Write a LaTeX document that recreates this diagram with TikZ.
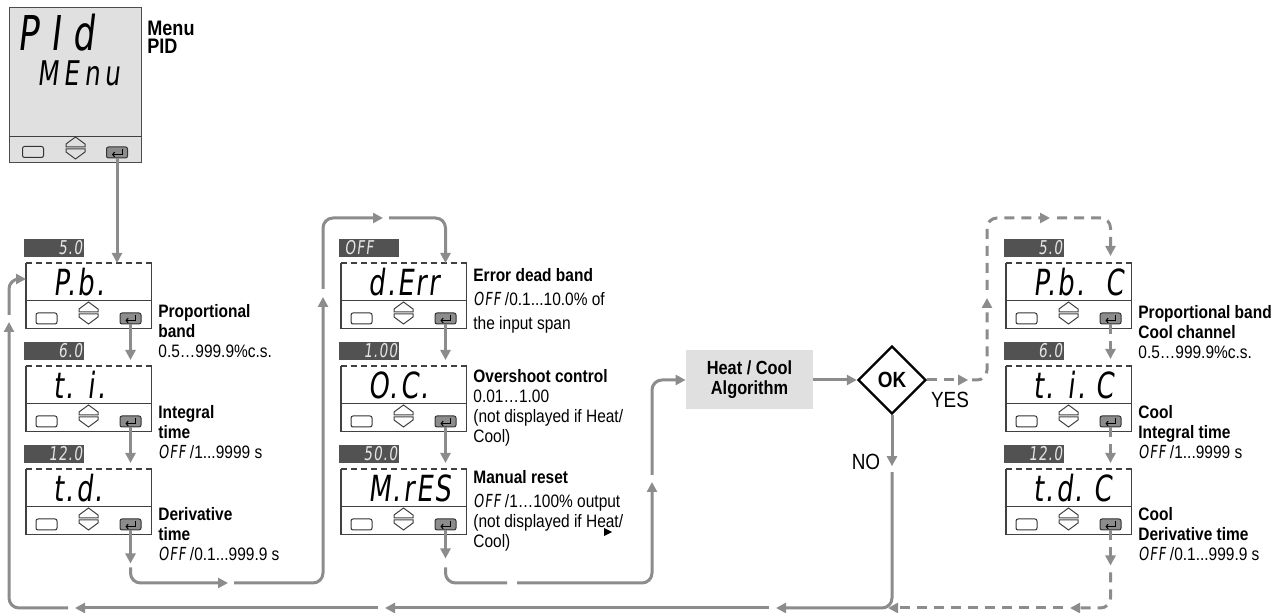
\documentclass[tikz,border=0pt]{standalone}
\usepackage{fontspec}
\setmainfont{Liberation Sans}[FakeStretch=0.86]
\newfontfamily\segfont{DejaVu Sans}[FakeSlant=0.12,FakeStretch=0.72,LetterSpace=6]
\usetikzlibrary{arrows.meta,calc,shapes.geometric}

\begin{document}
\begin{tikzpicture}[
  x=0.5pt,y=-0.5pt,
  >={Triangle[length=5pt,width=5pt]},
  font=\fontsize{9}{10}\selectfont,
  flow/.style={->, draw=black!45, line width=1.5pt, rounded corners=5pt},
  flowdash/.style={flow, dash pattern=on 5pt off 3.5pt},
  frame/.style={draw=black!75, line width=0.6pt},
  menubox/.style={fill=black!12, draw=black!70, line width=0.7pt, minimum width=66pt, minimum height=77.5pt, inner sep=0pt},
  screen/.style={minimum width=62.5pt, minimum height=32.5pt, inner sep=0pt},
  valtab/.style={fill=black!68, text=black!10, font=\segfont\fontsize{9.5}{10}\selectfont, text width=28pt, align=right, inner xsep=1pt, inner ysep=0pt, minimum height=9pt},
  segtext/.style={font=\segfont\fontsize{18}{18}\selectfont, inner sep=0pt, anchor=west},
  keybtn/.style={draw=black!80, fill=white, line width=0.5pt, rounded corners=1pt, minimum width=10.5pt, minimum height=5.5pt, inner sep=0pt},
  enterbtn/.style={keybtn, fill=black!45},
  entermark/.style={draw=black, line width=0.5pt, -{Straight Barb[length=1pt,width=2.4pt]}},
  updown/.style={frame, line width=0.5pt},
  descr/.style={anchor=north west, align=left, inner sep=0pt},
  algo/.style={fill=black!12, minimum width=63.5pt, minimum height=29.5pt, align=center, font=\bfseries\fontsize{9.5}{10}\selectfont},
  okdia/.style={diamond, draw=black, line width=1.2pt, fill=white, minimum width=34pt, minimum height=34pt, inner sep=0pt, font=\bfseries\fontsize{11}{11}\selectfont},
  answer/.style={font=\fontsize{11}{11}\selectfont}
]
\path[use as bounding box] (0,0) rectangle (1279,613);

% Menu display
\node[menubox, anchor=north west] (menu) at (9,7) {};
\draw[frame] ($(menu.south west)+(0,-27)$) -- ($(menu.south east)+(0,-27)$);
\node[segtext, font=\segfont\addfontfeatures{LetterSpace=25}\fontsize{24}{24}\selectfont] (menu-top) at (17,33) {PId};
\node[segtext, font=\segfont\addfontfeatures{LetterSpace=15}\fontsize{17}{17}\selectfont] (menu-bot) at (37,73) {MEnu};
\node[keybtn, fill=none] (menu-esc) at (33,152) {};
\node[enterbtn] (menu-ent) at (117,152.5) {};
\draw[entermark] ($(menu-ent)+(5,-3)$) -- ++(0,5) -- ++(-10,0);
\draw[updown] (66,147) -- (66,144) -- (75.5,137) -- (85,144) -- (85,147) -- cycle;
\draw[updown] (66,149) -- (66,152) -- (75.5,159) -- (85,152) -- (85,149) -- cycle;
\node[descr, font=\bfseries\fontsize{10.5}{9}\selectfont] (menu-lbl) at (147,21) {Menu\\PID};

% Parameter displays
\foreach \nm/\x/\y/\val/\txt in {pb/26/263/5.0/P.b., ti/26/366/6.0/t. i., td/26/469/12.0/t.d.,
    derr/341/263/OFF\hspace*{12pt}/d.Err, oc/341/366/1.00/O.C., mres/341/469/50.0/M.rES,
    pbc/1006/263/5.0/P.b.\ \ C, tic/1006/366/6.0/t. i.\ C, tdc/1006/469/12.0/t.d.\ C} {
  \node[valtab, anchor=south west] (\nm-val) at (\x-2,\y-6) {\val};
  \node[screen, anchor=north west] (\nm) at (\x,\y) {};
  \draw[frame] (\nm.north west) -- (\nm.south west) -- (\nm.south east) -- (\nm.north east);
  \draw[frame, densely dashed] (\nm.north west) -- (\nm.north east);
  \draw[frame] ($(\nm.south west)+(0,-28)$) -- ($(\nm.south east)+(0,-28)$);
  \node[segtext] (\nm-txt) at (\x+27,\y+19) {\txt};
  \node[keybtn] (\nm-esc) at (\x+20.5,\y+55.5) {};
  \node[enterbtn] (\nm-ent) at (\x+104.5,\y+55.5) {};
  \draw[entermark] ($(\nm-ent)+(5,-3)$) -- ++(0,5) -- ++(-10,0);
  \draw[updown] (\x+53,\y+49) -- (\x+53,\y+46) -- (\x+62.5,\y+39) -- (\x+72,\y+46) -- (\x+72,\y+49) -- cycle;
  \draw[updown] (\x+53,\y+51) -- (\x+53,\y+54) -- (\x+62.5,\y+61) -- (\x+72,\y+54) -- (\x+72,\y+51) -- cycle;
}

% Descriptions
\node[descr] (pb-lbl) at (158,304) {\textbf{Proportional}\\\textbf{band}\\0.5…999.9\%c.s.};
\node[descr] (ti-lbl) at (158,405) {\textbf{Integral}\\\textbf{time}\\{\segfont OFF}\ /1...9999 s};
\node[descr] (td-lbl) at (158,507) {\textbf{Derivative}\\\textbf{time}\\{\segfont OFF}\ /0.1...999.9 s};
\node[descr] (derr-lbl) at (473,268) {\textbf{Error dead band}\\[2pt]{\segfont OFF}\ /0.1...10.0\% of\\[2pt]the input span};
\node[descr] (oc-lbl) at (473,369) {\textbf{Overshoot control}\\0.01…1.00\\(not displayed if Heat/\\Cool)};
\node[descr] (mres-lbl) at (473,470) {\textbf{Manual reset}\\[2pt]{\segfont OFF}\ /1…100\% output\\(not displayed if Heat/\\Cool)};
\node[descr] (pbc-lbl) at (1138,305) {\textbf{Proportional band}\\\textbf{Cool channel}\\0.5…999.9\%c.s.};
\node[descr] (tic-lbl) at (1138,405) {\textbf{Cool}\\\textbf{Integral time}\\{\segfont OFF}\ /1...9999 s};
\node[descr] (tdc-lbl) at (1138,507) {\textbf{Cool}\\\textbf{Derivative time}\\{\segfont OFF}\ /0.1...999.9 s};

% Algorithm and decision
\node[algo] (algo) at (749.5,380) {Heat / Cool\\Algorithm};
\node[okdia] (ok) at (892,380) {OK};
\node[answer] (yes) at (950,400) {YES};
\node[answer] (no) at (866,462) {NO};

% Straight steps
\draw[flow] (menu-ent.south) -- (menu-ent |- pb.north);
\foreach \a/\b in {pb/ti, ti/td, derr/oc, oc/mres}
  \draw[flow] (\a-ent.south) -- ($(\a-ent |- \b.north)+(0,-6)$);

% PID loop over to the error band
\coordinate (loopbot) at (323,583);
\coordinate (looptop) at (323,218);
\draw[flow] (td-ent.south) -- ++(0,33);
\draw[flow] ($(td-ent.south)+(0,37)$) |- ($(loopbot)+(-95,0)$);
\draw[flow] ($(loopbot)+(-89,0)$) -| ($(looptop)+(0,79)$);
\draw[flow] ($(looptop)+(0,71)$) |- ($(looptop)+(60,0)$);
\draw[flow] ($(looptop)+(66,0)$) -| (derr-ent |- derr.north);

% Manual reset to the algorithm
\coordinate (algobot) at (652,583);
\draw[flow] (mres-ent.south) -- ++(0,28);
\draw[flow, -] ($(mres-ent.south)+(0,37)$) |- ($(algobot)+(-145,0)$);
\draw[flow] ($(algobot)+(-135,0)$) -| ($(algobot)+(0,-101)$);
\draw[flow] ($(algobot)+(0,-108)$) |- (algo.west);
\fill[black] (604,528) -- (612,532) -- (604,536) -- cycle;
\draw[flow] (algo.east) -- (ok.west);

% YES: cool channel
\coordinate (yestop) at (987,218);
\draw[flowdash] (ok.east) -- ++(41,0);
\draw[flowdash] ($(ok.east)+(45,0)$) -| ($(yestop)+(0,80)$);
\draw[flowdash] ($(yestop)+(0,72)$) |- ($(yestop)+(63,0)$);
\draw[flowdash] ($(yestop)+(70,0)$) -| ($(pbc-ent |- pbc.north)+(0,-7)$);
\draw[flowdash] (pbc-ent.south) -- ($(pbc-ent |- tic.north)+(0,-7)$);
\draw[flowdash] (tic-ent.south) -- ($(tic-ent |- tdc.north)+(0,-6)$);

\coordinate (coolbot) at (1111,608);
\draw[flowdash] (tdc-ent.south) -- ++(0,35);
\draw[flowdash] ($(tdc-ent.south)+(0,42)$) |- ($(coolbot)+(-41,0)$);
\draw[flowdash] ($(coolbot)+(-48,0)$) -- ($(coolbot)+(-223,0)$);

% NO: back to the start
\coordinate (ret) at (9,608);
\draw[flow] (ok.south) -- ++(0,51);
\draw[flow] ($(ok.south)+(0,57)$) |- ($(ret)+(767,0)$);
\draw[flow] ($(ret)+(760,0)$) -- ($(ret)+(376,0)$);
\draw[flow] ($(ret)+(369,0)$) -- ($(ret)+(66,0)$);
\draw[flow] ($(ret)+(59,0)$) -| ($(ret)+(0,-286)$);
\draw[flow] ($(ret)+(0,-293)$) |- ($(pb.north west)+(0,16)$);

\end{tikzpicture}
\end{document}
